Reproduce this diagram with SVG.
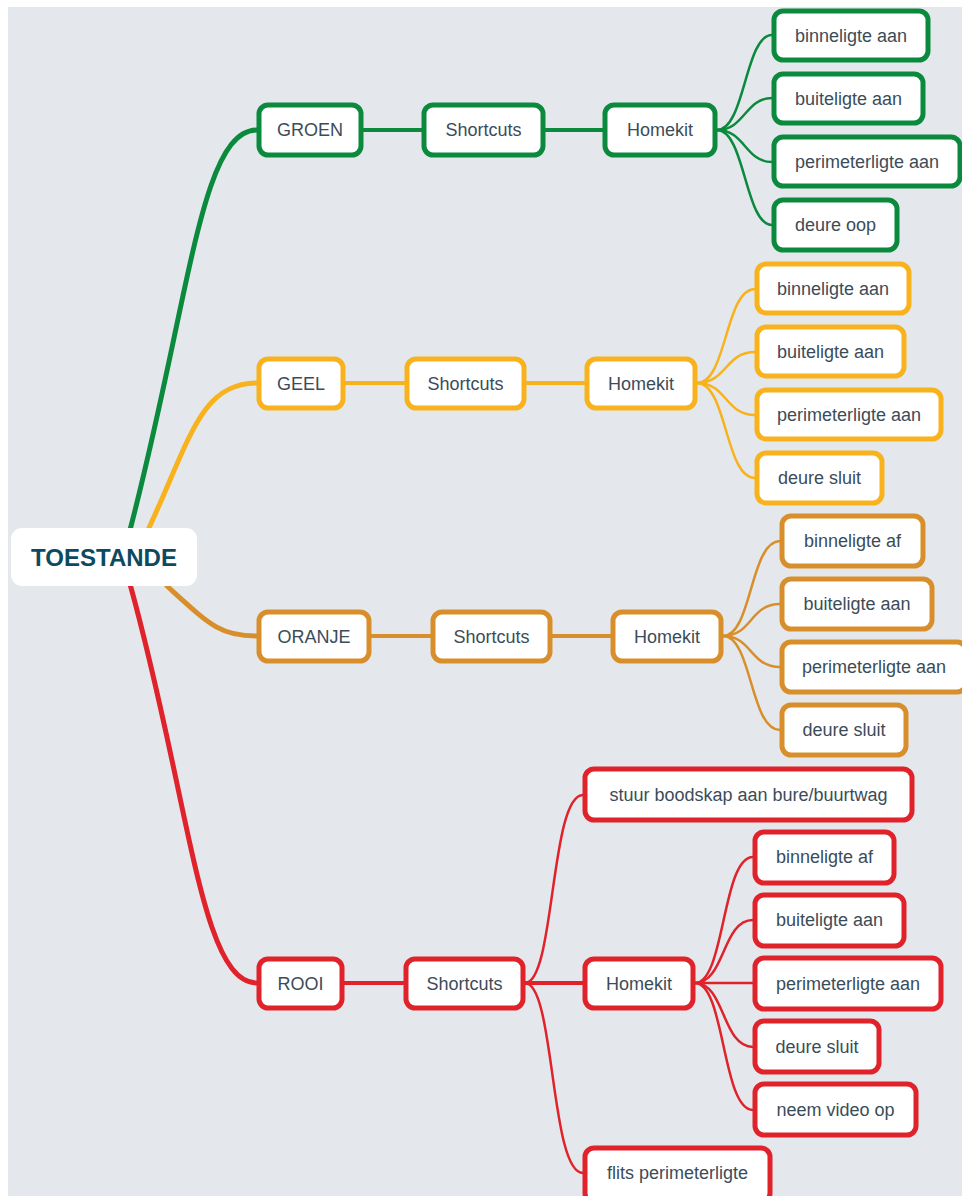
<svg xmlns="http://www.w3.org/2000/svg" width="962" height="1196" viewBox="0 0 962 1196">
<style>
.n rect{fill:#ffffff;stroke-width:5}
.n text{font-family:"Liberation Sans",Arial,sans-serif;font-size:18px;fill:#3b4c59;text-anchor:middle;dominant-baseline:central}
.g rect{stroke:#0b8a3e}.y rect{stroke:#f7b21d}.o rect{stroke:#d88f2b}.r rect{stroke:#e0222b}
.c path{fill:none;stroke-linecap:round}
.cg{stroke:#0b8a3e}.cy{stroke:#f7b21d}.co{stroke:#d88f2b}.cr{stroke:#e0222b}
.w1{stroke-width:5}.w2{stroke-width:4}.w3{stroke-width:2.5}
</style>
<rect x="0" y="0" width="962" height="1196" fill="#ffffff"/>
<rect x="8" y="7" width="954" height="1189" fill="#e4e8ed"/>
<g id="connectors" class="c">
<path class="cg w1" d="M130,530 C190,300 200,130 257,130"/>
<path class="cy w1" d="M148,530 C190,440 200,383 257,383"/>
<path class="co w1" d="M167,586 C210,625 220,636 257,636"/>
<path class="cr w1" d="M130,584 C190,800 200,983 257,983"/>
<path class="cg w2" d="M363,130 L422,130"/>
<path class="cg w2" d="M545,130 L603,130"/>
<path class="cy w2" d="M345,383 L405,383"/>
<path class="cy w2" d="M526,383 L585,383"/>
<path class="co w2" d="M371,636 L431,636"/>
<path class="co w2" d="M552,636 L611,636"/>
<path class="cr w2" d="M344,983 L404,983"/>
<path class="cr w2" d="M525,983 L583,983"/>
<path class="cr w3" d="M525,983 C555,983 550,795 583,795"/>
<path class="cr w3" d="M525,983 C555,983 550,1173 583,1173"/>
<path class="cg w3" d="M717,130 C745,130 745,35 772,35"/>
<path class="cg w3" d="M717,130 C745,130 745,98 772,98"/>
<path class="cg w3" d="M717,130 C745,130 745,162 772,162"/>
<path class="cg w3" d="M717,130 C745,130 745,225 772,225"/>
<path class="cy w3" d="M697,383 C727,383 725,289 755,289"/>
<path class="cy w3" d="M697,383 C727,383 725,352 755,352"/>
<path class="cy w3" d="M697,383 C727,383 725,415 755,415"/>
<path class="cy w3" d="M697,383 C727,383 725,478 755,478"/>
<path class="co w3" d="M723,636 C752,636 750,541 780,541"/>
<path class="co w3" d="M723,636 C752,636 750,604 780,604"/>
<path class="co w3" d="M723,636 C752,636 750,667 780,667"/>
<path class="co w3" d="M723,636 C752,636 750,730 780,730"/>
<path class="cr w3" d="M695,983 C725,983 722,857 753,857"/>
<path class="cr w3" d="M695,983 C725,983 722,920 753,920"/>
<path class="cr w3" d="M695,983 L753,983"/>
<path class="cr w3" d="M695,983 C725,983 722,1047 753,1047"/>
<path class="cr w3" d="M695,983 C725,983 722,1110 753,1110"/>
</g>
<g id="root"><rect x="11" y="528" width="186" height="58" rx="11" fill="#ffffff"/><text x="104" y="557" font-family="Liberation Sans,Arial,sans-serif" font-size="24" font-weight="bold" fill="#0e4a5f" text-anchor="middle" dominant-baseline="central">TOESTANDE</text></g>
<g id="groen" class="n g"><rect x="259" y="105" width="102" height="50" rx="9"/><text x="310" y="130">GROEN</text></g>
<g id="g-shortcuts" class="n g"><rect x="424" y="105" width="119" height="50" rx="9"/><text x="483.5" y="130">Shortcuts</text></g>
<g id="g-homekit" class="n g"><rect x="605" y="105" width="110" height="50" rx="9"/><text x="660" y="130">Homekit</text></g>
<g id="g-binne" class="n g"><rect x="774" y="11" width="154" height="49" rx="9"/><text x="851" y="35.5">binneligte aan</text></g>
<g id="g-buite" class="n g"><rect x="774" y="74" width="149" height="49" rx="9"/><text x="848.5" y="98.5">buiteligte aan</text></g>
<g id="g-peri" class="n g"><rect x="774" y="137" width="186" height="49" rx="9"/><text x="867" y="161.5">perimeterligte aan</text></g>
<g id="g-deure" class="n g"><rect x="774" y="200" width="123" height="50" rx="9"/><text x="835.5" y="225">deure oop</text></g>
<g id="geel" class="n y"><rect x="259" y="359" width="84" height="49" rx="9"/><text x="301" y="383.5">GEEL</text></g>
<g id="y-shortcuts" class="n y"><rect x="407" y="359" width="117" height="49" rx="9"/><text x="465.5" y="383.5">Shortcuts</text></g>
<g id="y-homekit" class="n y"><rect x="587" y="359" width="108" height="49" rx="9"/><text x="641" y="383.5">Homekit</text></g>
<g id="y-binne" class="n y"><rect x="757" y="264" width="152" height="49" rx="9"/><text x="833" y="288.5">binneligte aan</text></g>
<g id="y-buite" class="n y"><rect x="757" y="327" width="147" height="49" rx="9"/><text x="830.5" y="351.5">buiteligte aan</text></g>
<g id="y-peri" class="n y"><rect x="757" y="390" width="184" height="49" rx="9"/><text x="849" y="414.5">perimeterligte aan</text></g>
<g id="y-deure" class="n y"><rect x="757" y="453" width="125" height="50" rx="9"/><text x="819.5" y="478">deure sluit</text></g>
<g id="oranje" class="n o"><rect x="259" y="612" width="110" height="49" rx="9"/><text x="314" y="636.5">ORANJE</text></g>
<g id="o-shortcuts" class="n o"><rect x="433" y="612" width="117" height="49" rx="9"/><text x="491.5" y="636.5">Shortcuts</text></g>
<g id="o-homekit" class="n o"><rect x="613" y="612" width="108" height="49" rx="9"/><text x="667" y="636.5">Homekit</text></g>
<g id="o-binne" class="n o"><rect x="782" y="516" width="141" height="50" rx="9"/><text x="852.5" y="541">binneligte af</text></g>
<g id="o-buite" class="n o"><rect x="782" y="579" width="150" height="50" rx="9"/><text x="857" y="604">buiteligte aan</text></g>
<g id="o-peri" class="n o"><rect x="782" y="642" width="184" height="50" rx="9"/><text x="874" y="667">perimeterligte aan</text></g>
<g id="o-deure" class="n o"><rect x="782" y="705" width="124" height="50" rx="9"/><text x="844" y="730">deure sluit</text></g>
<g id="rooi" class="n r"><rect x="259" y="959" width="83" height="49" rx="9"/><text x="300.5" y="983.5">ROOI</text></g>
<g id="r-shortcuts" class="n r"><rect x="406" y="959" width="117" height="49" rx="9"/><text x="464.5" y="983.5">Shortcuts</text></g>
<g id="r-stuur" class="n r"><rect x="585" y="769" width="327" height="51" rx="9"/><text x="748.5" y="795">stuur boodskap aan bure/buurtwag</text></g>
<g id="r-homekit" class="n r"><rect x="585" y="959" width="108" height="49" rx="9"/><text x="639" y="983.5">Homekit</text></g>
<g id="r-binne" class="n r"><rect x="755" y="832" width="139" height="51" rx="9"/><text x="824.5" y="857">binneligte af</text></g>
<g id="r-buite" class="n r"><rect x="755" y="895" width="149" height="51" rx="9"/><text x="829.5" y="920">buiteligte aan</text></g>
<g id="r-peri" class="n r"><rect x="755" y="958" width="186" height="51" rx="9"/><text x="848" y="983.5">perimeterligte aan</text></g>
<g id="r-deure" class="n r"><rect x="755" y="1021" width="124" height="51" rx="9"/><text x="817" y="1047">deure sluit</text></g>
<g id="r-video" class="n r"><rect x="755" y="1084" width="161" height="51" rx="9"/><text x="835.5" y="1110">neem video op</text></g>
<g id="r-flits" class="n r"><rect x="585" y="1148" width="185" height="54" rx="9"/><text x="677.5" y="1173">flits perimeterligte</text></g>
</svg>
